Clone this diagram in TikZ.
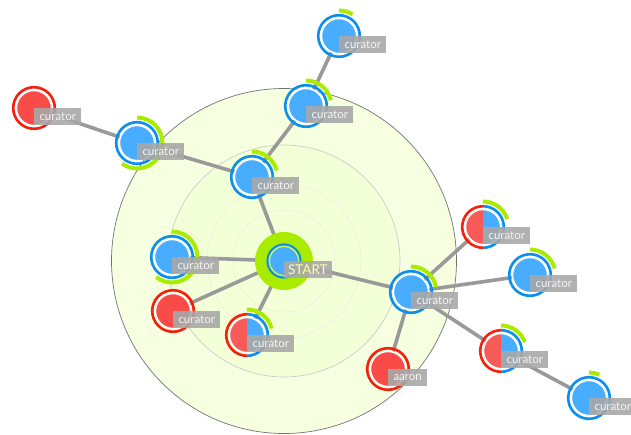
\documentclass[tikz,border=0pt]{standalone}
\usepackage{fontspec}
\setmainfont{Lato}
\usetikzlibrary{backgrounds}
\definecolor{ringblue}{HTML}{0A8FEF}
\definecolor{discblue}{HTML}{48ADFF}
\definecolor{ringred}{HTML}{F5200C}
\definecolor{discred}{HTML}{F94C48}
\definecolor{halfred}{HTML}{F85A58}
\definecolor{limeg}{HTML}{A9EC00}
\definecolor{edgegrey}{HTML}{999999}
\tikzset{
  person/.style={circle,inner sep=0pt,minimum size=35pt,outer sep=0pt},
  tag/.style={anchor=north west,fill=black!34,fill opacity=.9,text opacity=1,text=white!92!gray,
    font=\fontsize{11.5}{12}\selectfont,inner xsep=5.5pt,inner ysep=0pt,minimum height=17pt,outer sep=0pt},
  linkline/.style={draw=edgegrey,line width=3.6pt},
  zone/.style={circle,inner sep=0pt,outer sep=0pt},
  pic arc/.style={draw=limeg,line width=4pt},
  whitering/.style={draw=white,line width=1.6pt},
}
% name, x, y, left ring, right ring, left disc, right disc, arc sweep, label
\newcommand{\persona}[9]{%
  \node[person] (#1) at (#2,#3) {};
  \fill[#6] (#2,#3) ++(0,-18) arc[start angle=-90,end angle=-270,radius=18] -- cycle;
  \fill[#7] (#2,#3) ++(0,-18) arc[start angle=-90,end angle=90,radius=18] -- cycle;
  \draw[whitering] (#2,#3) circle[radius=17.6];
  \draw[#4,line width=2.6pt] (#2,#3) ++(0,-20.8) arc[start angle=-90,end angle=-270,radius=20.8];
  \draw[#5,line width=2.6pt] (#2,#3) ++(0,-20.8) arc[start angle=-90,end angle=90,radius=20.8];
  \ifnum#8>0
    \draw[pic arc] (#2,#3) ++(0,-25.5) arc[start angle=-90,delta angle=#8,radius=25.5];
  \fi
  \node[tag] (#1-tag) at (#2,#3) {#9};
}
\begin{document}
\begin{tikzpicture}[x=1pt,y=-1pt]
\useasboundingbox (0,0) rectangle (631,434);
% centre node
\node[zone,fill=limeg,minimum size=58pt] (start) at (284,261) {};
\fill[ringblue] (start.center) circle[radius=17.6];
\fill[limeg!65!white] (start.center) circle[radius=15.4];
\fill[discblue] (start.center) circle[radius=13.8];
\node[tag,text=yellow!35!white,font=\fontsize{13.5}{14}\selectfont,inner xsep=4pt] (start-tag) at (start.center) {START};
\persona{a}{339}{36}{ringblue}{ringblue}{discblue}{discblue}{32}{curator}
\persona{b}{306}{106}{ringblue}{ringblue}{discblue}{discblue}{77}{curator}
\persona{c}{252}{177}{ringblue}{ringblue}{discblue}{discblue}{75}{curator}
\persona{d}{137}{143}{ringblue}{ringblue}{discblue}{discblue}{216}{curator}
\persona{e}{34}{108}{ringred}{ringred}{discred}{discred}{0}{curator}
\persona{f}{172}{257}{ringblue}{ringblue}{discblue}{discblue}{218}{curator}
\persona{g}{173}{311}{ringred}{ringred}{discred}{discred}{0}{curator}
\persona{h}{247}{335}{ringred}{ringblue}{halfred}{discblue}{75}{curator}
\persona{i}{411}{292}{ringblue}{ringblue}{discblue}{discblue}{79}{curator}
\persona{j}{483}{227}{ringred}{ringblue}{halfred}{discblue}{72}{curator}
\persona{k}{530}{275}{ringblue}{ringblue}{discblue}{discblue}{75}{curator}
\persona{l}{501}{351}{ringred}{ringblue}{halfred}{discblue}{70}{curator}
\persona{m}{589}{398}{ringblue}{ringblue}{discblue}{discblue}{24}{curator}
\persona{n}{388}{369}{ringred}{ringred}{discred}{discred}{0}{aaron}
\begin{pgfonlayer}{background}
  \node[zone,draw=black!55,line width=.7pt,fill=green!30!yellow!12!white,minimum size=345pt] (z1) at (start.center) {};
  \node[zone,draw=black!22,line width=.6pt,fill=green!30!yellow!16!white,minimum size=232pt] (z2) at (start.center) {};
  \node[zone,draw=black!8,line width=.5pt,fill=green!30!yellow!16!white,minimum size=154pt] (z3) at (start.center) {};
  \node[zone,draw=black!8,line width=.5pt,fill=green!30!yellow!16!white,minimum size=102pt] (z4) at (start.center) {};
  \foreach \p/\q in {start/c,c/b,b/a,c/d,d/e,start/f,start/g,start/h,start/i,i/j,i/k,i/l,l/m,i/n}
    \draw[linkline] (\p.center) -- (\q.center);
\end{pgfonlayer}
\end{tikzpicture}
\end{document}
